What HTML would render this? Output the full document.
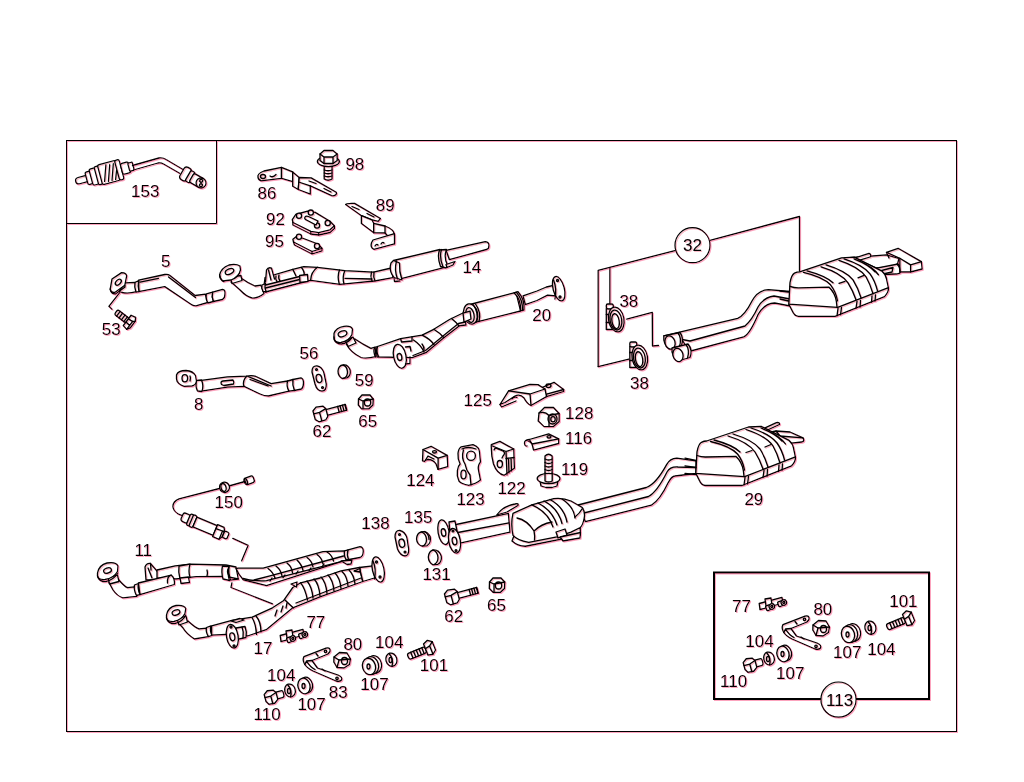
<!DOCTYPE html>
<html><head><meta charset="utf-8"><style>
html,body{margin:0;padding:0;background:#fff;width:1024px;height:782px;overflow:hidden}
svg{position:absolute;left:0;top:0}
text{font-family:"Liberation Sans",sans-serif;font-size:17px;fill:#000}
.p path,.p polyline,.p polygon,.p line,.p ellipse,.p circle,.p rect{fill:none;stroke:#000;stroke-width:1.3;stroke-linejoin:round;stroke-linecap:round}
.p .f{fill:#fff}
</style></head><body>
<svg width="1024" height="782" viewBox="0 0 1024 782">
<defs><filter id="fr" x="0" y="0" width="1024" height="782" filterUnits="userSpaceOnUse">
<feColorMatrix in="SourceGraphic" type="matrix" values="0 0 0 0 0.95  0 0 0 0 0.1  0 0 0 0 0.25  -0.333 -0.333 -0.333 0 1" result="ink"/>
<feComposite in="ink" in2="SourceAlpha" operator="in" result="inkm"/>
<feOffset in="inkm" dx="0.7" dy="0.7" result="red"/>
<feComponentTransfer in="red" result="red2"><feFuncA type="linear" slope="0.55"/></feComponentTransfer>
<feBlend in="red2" in2="SourceGraphic" mode="multiply"/>
</filter></defs>
<g filter="url(#fr)">
<g fill="none" stroke="#000" stroke-width="1">
<rect x="66.5" y="140.5" width="890" height="591"/>
<polyline points="66.5,223.5 216.5,223.5 216.5,140.5"/>
<rect x="714" y="572.5" width="215" height="126.5" stroke-width="2"/>
</g>
<g class="p">
<!-- 11 upper pipe -->
<path class="f" d="M118.1,579 Q124,586 127.5,587.7 L134.5,586.9 L136.9,596.3 L122.8,597.8 Q117,596 113,590 L108.8,582.2 Z"/>
<path class="f" d="M108,578 L117.5,575 L119,581.5 L109.5,584 Z"/>
<path class="f" d="M97.5,573 Q99,565 107,563 Q116,561.5 118,566 L117.5,571.5 Q114,578 105,579.5 Q98,580 97.5,576 Z"/>
<path d="M97.5,576 L98.5,578.5 Q101,582 106,581.5 Q114,579.5 118,573"/>
<ellipse cx="107.5" cy="570.5" rx="4" ry="2.6" transform="rotate(-20 107.5 570.5)"/>
<path class="f" d="M134.5,585 Q133.5,590 136.5,595.5 L140,594.7 Q137.5,589.5 138.4,583.5 Z"/>
<path class="f" d="M145,567 Q146.5,563 150.5,563.5 L158.75,573 L158.75,579.8 L146,580 Z"/>
<path d="M148,568 L152,578 M150.5,563.5 L151,570"/>
<path class="f" d="M157,570 L175.2,565.8 L190,564.2 L225.9,565 L236,567 L238.3,579 L225.9,576.5 L196.25,576.7 L176,579 L157,578 Z"/>
<path class="f" d="M138.4,583 L171.3,575.2 Q175,578 174.4,584.5 L140,594.7 Z"/>
<path d="M171.3,575.2 Q167,576 167.5,583"/>
<path class="f" d="M179,566 Q178,572 180,579 L190,577.5 Q188,571 190,564.2 Z"/>
<path class="f" d="M180,578 L188.5,577 L189.5,582.5 L181,583.5 Z"/>
<path d="M207,570 Q208,573 207,576"/>
<path class="f" d="M222.5,566 Q221,572 223,579 L229.5,580.5 Q227,573 229,566.5 Z"/>
<path d="M229,566.5 Q228,572 230.5,580.2 L238.3,579"/>
<path d="M228,569 Q226.5,573 229.5,576"/>
<!-- upper cat -->
<path class="f" d="M236,568.5 L238.3,568.2 L263.2,568.2 L322.9,551.6 L344.5,550.8 L346.5,560 L341.2,561.6 L266.5,585.6 L243.2,579.8 Q238,574 236,568.5 Z"/>
<path d="M243,578.5 Q254,581.5 266.5,580.7 L341.2,561.6 M254,580 L270,575.8 L343.5,556"/>
<path d="M268,568.5 Q273,572 275,578 M276,566 Q281,570 282,576 M287,563 Q292,567 292.5,573 M297,560 Q302,565 303,570.5 M307,557.5 Q312,561 313,567 M317,554.5 Q322,558 323,564 M327,552 Q332,555 333.5,561"/>
<path d="M270,581 L272,578 M283,577.5 L285,575 M296,574 L298,571 M309,570.5 L311,568 M322,567 L324,564"/>
<path class="f" d="M344.5,550.8 L360,546.6 Q363.5,547 363.3,551.5 Q363,556.5 360,557.5 L346.5,560 Q343.5,556 344.5,550.8 Z"/>
<path d="M348,550 Q346.5,555 348.5,559.5"/>
<path class="f" d="M341,561 L352,560 L351,564 L347,564.5 Z"/>
<!-- lower pipe -->
<path class="f" d="M188.1,621 Q195,627.5 199,628.9 L206.9,628.1 L208.4,636.7 L194.4,639 Q186,633.5 183,628 L178.75,623.4 Z"/>
<path class="f" d="M177,619 L186,616 L187.5,622 L179,625 Z"/>
<path class="f" d="M166.5,615 Q168,607 176,605.5 Q184,604.5 185.8,608.5 L185,613.5 Q182,619.5 174,621.5 Q167,622 166.5,618 Z"/>
<path d="M166.5,618 L167.5,620.5 Q170,624 175,623.5 Q183,621.5 185.6,615"/>
<ellipse cx="176" cy="612.5" rx="4" ry="2.5" transform="rotate(-20 176 612.5)"/>
<path class="f" d="M206.5,627.5 Q205.5,632 208.4,636.7 L212,635.5 Q209.5,630.5 211,625.8 Z"/>
<path class="f" d="M211.6,625.8 L231.9,620.3 L252.2,617.2 L272.5,607.8 L283.4,600.8 L292.8,587.5 L300.6,582.8 L320,578 L341,570.8 L359.4,567.5 L362.8,581.5 L320,596.9 L292.8,607.8 L266.25,629.7 L247.5,636 L236,634 L211.6,635.2 Z"/>
<path d="M252,617.5 Q256,624 256.5,634.5 M256,616 Q261,622 261,632"/>
<path d="M277,610 L275,616 M283,606 L281,612 M287,603 L286,608"/>
<path d="M285,600 Q290,605 293.5,608"/>
<path d="M300.6,582.8 Q305,588 307.5,600 M307,581 Q312,587 313,598 M314,579 Q319,584 320,596 M321,577 Q326,582 327,593.5 M328,575 Q333,580 334,591 M335,573 Q340,578 341,588.5 M342,571.5 Q347,576 348,586 M349,570 Q354,575 355,584"/>
<path d="M296,603 L361,578"/>
<path class="f" d="M291,584 L297,582 L296.5,587 Z"/>
<path class="f" d="M231,620.8 L240,618.5 L244,620 L236,622.5 Z"/>
<path class="f" d="M359.4,567.5 L373,565.8 L376,577.5 L362.8,581.5 Z"/>
<path class="f" d="M354,571 L360,568.5 L360,572 Z"/>
<ellipse class="f" cx="378.2" cy="569.5" rx="5.8" ry="12.8" transform="rotate(-12 378.2 569.5)"/>
<path d="M373,561 Q376.5,569 374.5,579"/>
<circle cx="376.5" cy="562" r="1"/><circle cx="380" cy="577" r="1"/>
<!-- flange 17 -->
<path class="f" d="M236,628 L245,626.5 Q247,631.5 246,637.5 L237,639.5 Z"/>
<path d="M242,627 Q244,632 243,638"/>
<ellipse class="f" cx="232.3" cy="636.3" rx="5.8" ry="12" transform="rotate(-10 232.3 636.3)"/>
<ellipse cx="232.3" cy="636.8" rx="2.5" ry="4" transform="rotate(-10 232.3 636.8)"/>
<circle cx="231" cy="627" r="1"/><circle cx="234" cy="646" r="1"/>
<!-- leaders -->

<path d="M231.9,582.8 L231,587.5 L272.5,603.9"/>
<!-- 125 bracket -->
<path class="f" d="M540.8,388 L554,382.3 L563.7,389.5 L563.7,391.5 L546.5,396.6 L540,393 Z"/>
<path d="M546.5,394.2 L563.7,389.5 M546.5,394.2 L546.5,396.6"/>
<ellipse cx="548.5" cy="385.8" rx="2.5" ry="1.8"/>
<path class="f" d="M500,404.5 L508.6,390.9 L530,384.4 L538,384.6 L545,389 L546.5,396.6 L531,405.5 Q527,404 524,398 Q520,393.5 515,396 L505,402.5 Z"/>
<path d="M508.6,390.9 L530,394 L545,389 M530,394 L531,405.5"/>
<path d="M500,404.5 L501.5,407 L516,401 M512,399 Q514,396 517,397.5"/>
<!-- 128 nut -->
<path class="f" d="M539,413 L544.5,407.5 L553.5,407.5 L559.2,413.5 L559.2,421.5 L553.5,426.6 L544,426.6 L538.2,421 Z"/>
<path d="M539,413 Q545,411 549,415.5 L549,426.6 M549,415.5 L559.2,413.5"/>
<ellipse cx="552.5" cy="419" rx="4.5" ry="5"/>
<ellipse cx="553" cy="419.2" rx="2.2" ry="2.6"/>
<!-- 116 clip -->
<path class="f" d="M529.3,439.5 L548.7,433.8 L558.7,438.8 L558.7,443.5 L533.6,450.2 L532,444 Z"/>
<path d="M532,444 L558.7,438.8 M529.3,439.5 Q524,440 524.5,443.5 Q525,446.5 527,446 M528,441 Q531,442 532,444"/>
<ellipse cx="549" cy="436.8" rx="2" ry="1.2"/>
<!-- 119 bolt -->
<path class="f" d="M545,456 Q548.5,452.5 552.2,456 L552.2,478 L545,478 Z"/>
<path d="M545,459 Q548.5,461 552.2,459 M545,462.5 Q548.5,464.5 552.2,462.5 M545,466 Q548.5,468 552.2,466 M545,469.5 Q548.5,471.5 552.2,469.5 M545,473 Q548.5,475 552.2,473"/>
<path class="f" d="M540,481 L541,486 L546,487.5 L552,487.5 L557,486 L558,481"/>
<ellipse class="f" cx="548.6" cy="478.5" rx="11.4" ry="5.2"/>
<path d="M545,474 L545,481 Q548.5,483 552.2,481 L552.2,474"/>
<!-- 124 block -->
<path class="f" d="M423,449.5 L431.1,446.3 L447.2,455.4 L447.8,466.7 L438.1,469.4 L436,464 Q433,459.5 428,459.5 Q425,460 424.5,461.5 L422.5,460.8 Z"/>
<path d="M423,449.5 L438.1,458.1 L447.2,455.4 M438.1,458.1 L438.1,469.4"/>
<ellipse cx="434.5" cy="451.8" rx="2" ry="1.2"/>
<path d="M425.5,460 L428,456 L434,459"/>
<!-- 123 bushing -->
<path class="f" d="M461.2,446.8 L473,444.7 Q479.5,447 479.5,452 L480.5,461.9 Q477.5,466 478.5,470 L480.5,480.1 Q476,484 468.7,485.3 Q461,484 459,481.2 Q456.5,476 457.4,470.5 Q458,466 460.1,464 Q457.5,459 458,453.3 Q458.5,448.5 461.2,446.8 Z"/>
<path d="M462,449 Q468,446 476,449 M463.5,450 Q461,458 465,464 Q466,470 470,475 L471,485"/>
<ellipse cx="471" cy="455.8" rx="4.4" ry="4.6"/>
<ellipse cx="463.5" cy="474.5" rx="2.6" ry="4.3"/>
<!-- 122 bushing -->
<path class="f" d="M491.3,444.7 L499.9,441.4 L513.8,449 L514.4,468.3 L504.2,475.3 Q497,474 493.5,464 Q491,455 491.3,444.7 Z"/>
<path d="M492.5,446 L506,451.5 L513.8,449 M506,451.5 L507,475"/>
<path d="M506,458.5 L514.2,457.5 M508.5,458.5 L509,473 M511,458 L511.5,471"/>
<path d="M494,450 Q495,447 498,449 L503,451 Q506,453 503,456 M503,456 L502,458"/>
<ellipse cx="499.8" cy="464" rx="2.6" ry="3.5"/>
<!-- 14 pipe -->
<path class="f" d="M241.4,278.2 Q248,283 255,286 L261,285.2 L264,293.5 Q258,298.5 252,298 Q246,296.5 240,290 L231,282 Z"/>
<path class="f" d="M230,277 L241,275.5 L242,280.5 L232,283.5 Z"/>
<path class="f" d="M219.6,275 Q221,268 229,265 Q236,263.5 240,266 L240.5,270 Q239,277 231,280 L223,281 Q219.5,279 219.6,275 Z"/>
<path d="M219.6,275 L220.5,278 Q222,281.5 224,281.5"/>
<ellipse cx="229.5" cy="271.5" rx="4.5" ry="2.6" transform="rotate(-25 229.5 271.5)"/>
<!-- straight section with shield -->
<path class="f" d="M264,286 L265,277.5 L292.8,269.4 L303.8,266.6 L317.4,267.3 L344.8,270.7 L373.5,272.1 L391.3,268 L393,277.6 L374.8,281 L340,284.4 L310.6,280.3 L307.9,281 L265.5,292 Z"/>
<path d="M265.5,285 L299.5,276.5 M265.5,288 L299.5,279.5"/>
<path d="M292.8,269.4 L296,276 M301.5,267.5 Q305,272 304,276"/>
<path class="f" d="M299.6,275.5 L307.5,274.5 L308,281.5 L300,282.5 Z"/>
<path d="M317.4,267.3 Q311,272 310.6,280.3"/>
<path d="M339.5,270 Q337,276 339.3,284.4 M344.8,270.7 Q342,277 344,284"/>
<path d="M345,278.3 L372,279"/>
<path d="M371.5,272 Q370,276.5 372,281 M374,272 Q373,277 375,281"/>
<path class="f" d="M263,291.5 Q261,288 262,285 L265.5,283.5 Q264,287.5 266.5,292 Z"/>
<!-- bracket tab -->
<path class="f" d="M265.5,282 L266.5,270 Q268,267 271.5,268 L274.5,279"/>
<path d="M268.5,270 L271,280 M276,276 Q275,279 277,281.5 M279,275 Q278,278.5 280,281"/>
<!-- muffler -->
<path class="f" d="M393.5,260.5 L440,249.5 L447.8,266.7 L399.4,279.2 Z"/>
<path class="f" d="M446,250.3 L485.3,241.7 Q489,242 489,245.5 Q489,249 486.5,249.5 L449.4,259.7 Z"/>
<path class="f" d="M391,263 Q389,269 392,274.5 Q394.5,279 396,278 L402,280 Q399,271.5 399.5,263 L393.5,260.5 Z"/>
<path d="M394,278 L394.5,281.5 L400,281 M396.5,261 Q394,270 397.5,279"/>
<path class="f" d="M439.5,250 Q437,257 440.5,266.5 L446,268 Q448,267 447.5,265 Q443.5,257 446.5,249.5 Z"/>
<path d="M441.5,249.5 Q439,257 443,267"/>
<path class="f" d="M446,264.5 L455,261.5 L453,265 L447,267.5 Z"/>
<!-- 150 sensor -->
<path d="M245,481.5 L229,486 M219.5,488.5 L179.1,498.8 Q172.5,501.5 173,507 Q174,513 181.6,515.4"/>
<g transform="translate(249.5,480.2) rotate(-20)">
<rect class="f" x="-4.5" y="-3.5" width="9" height="7" rx="2"/>
<ellipse cx="-4" cy="0" rx="1.5" ry="3.3"/>
</g>
<g transform="translate(224.5,487.3) rotate(-15)">
<ellipse class="f" cx="0" cy="0" rx="5" ry="5.2"/>
<ellipse cx="-1" cy="0" rx="2.5" ry="4"/>
</g>
<g transform="translate(182,516.5) rotate(23)">
<rect class="f" x="0" y="-4.5" width="8" height="9" rx="2.5"/>
<rect class="f" x="7" y="-6" width="4" height="12" rx="1.5"/>
<rect class="f" x="10" y="-6.3" width="4" height="12.6" rx="1.5"/>
<rect class="f" x="14" y="-5.3" width="22" height="10.6"/>
<path class="f" d="M36,-6.5 L43,-6.5 L45,-3 L45,3 L43,6.5 L36,6.5 Z"/>
<path d="M36,-2 L43,-2.5 L45,-3 M43,-2.5 L43,6.5"/>
<rect class="f" x="45" y="-3.5" width="5" height="7" rx="1.5"/>
</g>
<path d="M232.8,538.4 L248.1,545.4 L241.7,560.8"/>
<!-- 153 sensor -->
<g transform="translate(77.5,181) rotate(-15) scale(0.93)">
<rect class="f" x="-2" y="-3.5" width="16" height="7" rx="3.5"/>
<rect class="f" x="10" y="-7" width="6" height="14" rx="2"/>
<rect class="f" x="15" y="-9" width="7" height="18" rx="2"/>
<rect class="f" x="21" y="-10" width="5" height="20" rx="1.5"/>
<rect class="f" x="25" y="-11" width="20" height="22" rx="2"/>
<path d="M28,8 L34,-9 M32,9 L38,-8 M36,9 L42,-8 M40,9 L45,-4"/>
<rect class="f" x="44" y="-11" width="5" height="22" rx="2"/>
<rect class="f" x="49" y="-6" width="9" height="12" rx="2"/>
<rect class="f" x="57" y="-4.5" width="5" height="9" rx="1"/>
</g>
<path d="M132.5,165.5 L159,158 Q163,157.5 166,159.5 L183,169.5 M133.5,170 L158,163 Q161,162.5 163.5,164 L180,173.5"/>
<g transform="translate(182,172) rotate(30)">
<rect class="f" x="0" y="-7" width="8" height="14" rx="3"/>
<rect class="f" x="7" y="-6" width="5" height="12" rx="1.5"/>
<rect class="f" x="11" y="-5" width="12" height="10" rx="2"/>
<circle cx="22" cy="0" r="5" class="f"/>
<circle cx="21" cy="-2" r="1.5"/><circle cx="23" cy="2" r="1.5"/>
</g>
<!-- 20 pipe -->
<path class="f" d="M354.6,338.8 Q363,344.5 371,348.4 L375.1,347 L376,356.6 Q366,359 361,357.5 Q351,353 346.4,344.3 Z"/>
<path class="f" d="M345.5,341 L353,337 L356,343 L348,346.5 Z"/>
<path class="f" d="M334,333.5 Q336,327.5 344,326.3 Q351,325.5 352.5,329 L352,334.5 Q349,341 341,342.5 Q335,343 334,339 Z"/>
<path d="M334,337 L334.5,340 Q336,344 341.5,344 Q348,343 352,337.5"/>
<ellipse cx="342.5" cy="333.8" rx="4.5" ry="2.8" transform="rotate(-20 342.5 333.8)"/>
<path class="f" d="M376,347 L400.6,338.6 L422.1,335.2 L433.8,329.3 L449.5,319.5 L464,312.5 L466,325 L459.2,325.9 L443.6,338.1 L426,352.7 L412.3,357.6 L377,357 Z"/>
<path d="M374.5,347.5 Q373,352 375.5,357 M377.5,346.5 Q376,351.5 378.5,356.5"/>
<path d="M413,355.5 L425.5,350.5 L443,336 L458.5,323.5 L465,322"/>
<path d="M400.6,338.6 L401.5,342 L412,341 L412,336.8"/>
<path d="M413.5,340 Q421,345 424,352 M422.1,335.2 Q430,339 434,344.5 M433.8,329.3 Q440,333 443.6,337.5 M451.5,318.5 Q456,322 459,326"/>
<path d="M422,344 Q424.5,347 424,350"/>
<ellipse class="f" cx="399.8" cy="356.3" rx="6.2" ry="12.2" transform="rotate(-12 399.8 356.3)"/>
<ellipse cx="399.5" cy="357" rx="2.3" ry="3.5" transform="rotate(-12 399.5 357)"/>
<path d="M405.5,347 L410,346.5 L411,351 M405.5,364 L410,363.5 L410,357"/>
<!-- muffler 20 -->
<path class="f" d="M468,305 L516,292.3 L520.6,311 L476,322.2 Z"/>
<ellipse class="f" cx="470.6" cy="314" rx="7" ry="10.3" transform="rotate(-12 470.6 314)"/><ellipse cx="470" cy="315" rx="4" ry="7.5" transform="rotate(-12 470 315)"/><path class="f" d="M463,313 L470,311 L471,319 L464,322 Z"/>
<path d="M473,304.5 Q479,313 476.5,322 M475.5,304 Q481.5,312.5 479,321.5"/>
<path class="f" d="M514,292.8 Q521,299 520.6,310.8 L524,310 Q525,299 518,291.7 Z"/>
<path d="M516.5,292.3 Q523,300 522.5,310.5"/>
<path class="f" d="M523,295.8 L537,291 L546.4,287 L554.6,285.2 L556,296 L547.6,295.2 L537,300.5 L525.3,304.6 Z"/>
<ellipse class="f" cx="558.7" cy="288.7" rx="5.6" ry="12.6" transform="rotate(-15 558.7 288.7)"/>
<path d="M553.5,280 Q557,288 555,299"/>
<circle cx="557.5" cy="280.5" r="1"/><circle cx="560" cy="297" r="1"/>
<!-- 138 gasket -->
<path class="f" d="M395,537 Q395,530 400,530.5 Q405,531.5 407,538 L408.7,549 Q409,556 405,556 Q400,555.5 397.5,549 Z"/>
<ellipse cx="401.8" cy="543.2" rx="2.8" ry="4.2" transform="rotate(-12 401.8 543.2)"/>
<circle cx="399.5" cy="534.5" r="0.9"/><circle cx="405" cy="552" r="0.9"/>
<!-- 135 ring -->
<path class="f" d="M421,532 Q427,530.5 430.2,536.5 Q431.5,543 427,545.8 L422,546.2 Q417,544.5 416.5,539 Q417,533 421,532 Z"/>
<path d="M421.5,532 Q426,533.5 426.5,539.5 Q426.5,544.5 422.5,546.2 M424.5,531.5 Q429,534 429,539.5"/>
<!-- 131 ring -->
<path class="f" d="M433,550 Q439,549.5 441.3,556 Q442,562 438,564.3 L433,564.8 Q428.5,562.5 428.3,557 Q429,551 433,550 Z"/>
<path d="M433,550 Q437.5,551.5 438,557.5 Q438,562.5 434,564.6"/>
<!-- 62 lower bolt -->
<g transform="translate(452.5,597) rotate(-15)">
<path class="f" d="M4,-3 L26,-3 L26,3 L4,3 Z"/>
<path d="M18,-3 L18,3 M20.5,-3 L20.5,3 M23,-3 L23,3 M25.5,-3 L25.5,3"/>
<path class="f" d="M-7,-5 L-3,-8 L4,-7 L6,-4 L6,4 L3,7 L-4,7 L-7,4 Z"/>
<path d="M-7,-2 L-1,-2 L6,-4 M-1,-2 L-1,7"/>
</g>
<!-- 65 lower nut -->
<path class="f" d="M489.5,582 L493,578 L501,578 L504.8,582 L504.5,588.5 L500.5,592.3 L493,592.3 L489.3,588.5 Z"/>
<path d="M489.5,582 L494,584 L504.8,582 M494,584 L494,592.3"/>
<ellipse cx="498.5" cy="585.5" rx="3.2" ry="3.5"/>
<!-- cat 29 pipe to rear -->
<path class="f" d="M578,505 L646.3,487.5 Q656,484 666.6,464.6 Q670,458.5 676.8,458.2 L696,460.8 L696,473.5 L675,476 Q671.7,476 668,483 Q660,500 651.4,505.2 L585.4,521.7 Z"/>
<path d="M582,513.5 L648.5,496.5 Q657,492 667,472 Q670,466.5 678,467 L696,467.5"/>
<!-- twin pipes from flanges -->
<path class="f" d="M449,526 L508.4,513.4 L510,532.2 L460,543.1 Z"/>
<path d="M455,533 L509,522.8"/>
<path class="f" d="M496.7,515 Q503,506 515,504 Q519,503 518,505.5 L507,512 Z"/>
<ellipse class="f" cx="443.6" cy="532.2" rx="5.5" ry="12.5" transform="rotate(-10 443.6 532.2)"/>
<ellipse cx="443.5" cy="532.5" rx="2.2" ry="3.8" transform="rotate(-10 443.5 532.5)"/>
<path class="f" d="M449,522 L455,521 L457,531 L450,533 Z"/>
<ellipse class="f" cx="454.5" cy="540.8" rx="5.8" ry="12.5" transform="rotate(-10 454.5 540.8)"/>
<ellipse cx="454.5" cy="541" rx="2.3" ry="3.8" transform="rotate(-10 454.5 541)"/>
<circle cx="453" cy="531" r="0.9"/><circle cx="456" cy="550.5" r="0.9"/>
<!-- cat body -->
<path class="f" d="M512,541 Q518,546.5 525.6,546.25 L580.3,535.3 L580.3,528 L515,533 Z"/>
<path class="f" d="M513,513.4 L531.9,504.8 L553.75,498.6 Q563,497.5 571,501 L581.9,507.2 Q585.5,512 584.2,518 Q583,525 580.3,527.5 L571,532.2 L556.9,536.9 L528.75,542.3 Q517,540 513,535.3 Q510.5,524 513,513.4 Z"/>
<path d="M517,518 Q527,520 534,531 Q541,524 552,522 M534,531 Q535,536 534.5,540"/>
<path d="M531.9,504.8 Q548,512 553,527 M538,503 Q552,510 557,525 M544,501 Q558,508 562,523.5 M550,499.5 Q564,507 567,522 M562,499 Q574,507 575,518"/>
<path d="M575,517 Q580,513 582,509"/>
<path class="f" d="M556,532 L565,529 L567,535 L558,538 Z"/>
<path class="f" d="M560,537 L580.5,532.5 L580,538 L563,541 Z"/>
<!-- muffler 29 tail -->
<path class="f" d="M756,432 L776.4,422.6 Q780,422 779.5,424.5 L762,432.5 Z"/>
<path class="f" d="M760,434 L776,431 L790,432 L803,437.9 Q805,441 802,442 L782.8,444.2 L770,445 Z"/>
<path d="M776,431 L780,436 L803,437.9 M780,436 L778,444.5"/>
<!-- muffler 29 body -->
<g>
<path class="f" d="M695.8,473.4 L699,479.7 Q701.5,485.5 705.3,485.5 L742.1,485.5 L791.6,465.8 Q796,461 795.4,456.9 Z"/>
<path class="f" d="M706.6,441 L748.5,427 L761.2,426.4 L789.1,440.4 Q793,444 793.5,448 L795.4,456.9 L744.7,476.6 L695.8,473.4 L697,451.8 Q698.5,444 701.5,442.3 Q704,441 706.6,441 Z"/>
<path d="M697,455.5 Q701,457 705.3,457 L735.8,456.3 Q742,462 743.4,470.9 L744,476.5"/>
<path d="M710.5,441.5 Q730,446 737.5,454 Q743,461 744.5,470"/>
<path d="M714,440 Q733,445 740,452 M728,436 Q748,442 755,452 Q760,460 763,469 M733,434 Q753,440 760,449 Q765,457 768,467"/>
<path d="M746,429.5 Q766,436 773,446 Q777,453 780,463 M751,428 Q770,434 777,443 Q782,450 784.5,460"/>
<path d="M761,428 Q776,434 782,441 M766,430 Q780,436 785.5,444"/>
<path d="M746,452.5 L752,450.5 M765,447 L771,444.5"/>
<path d="M745,477.5 L744,485 M748.5,476.5 L747.5,484 M764,470.5 L763,477.5 M767.5,469.5 L767,476.5 M779,465 L778.5,471.5 M782.5,464 L782,470.5"/>
</g>
<path d="M685,458.2 L696,460.5 M685,465.8 L696,467.5 M685,473.5 L696,474.5"/>
<!-- 32 group leader lines -->
<path d="M598.2,366.6 L598.2,270.3 L675,250.6 M710,240.4 L799.5,216.5 L799.5,272.5"/>
<path d="M598.2,366.6 L629,359.2 M609.9,268.2 L609.9,304"/>
<path d="M626.8,319.1 L652.3,312.4 L652.5,346 L658.5,345.5"/>
<!-- clamps 38 -->
<g transform="translate(616.3,319.5)">
<path class="f" d="M-10,-11 L-3,-11 L-3,10 L-10,10 Z"/>
<path d="M-10,-5 L-4,-5 M-10,3 L-4,3"/>
<rect class="f" x="-10" y="-15.5" width="7" height="4.8" rx="1.5"/>
<ellipse class="f" cx="0" cy="0" rx="7.7" ry="12.5" transform="rotate(-10)"/>
<ellipse cx="-0.5" cy="0.5" rx="5.8" ry="10" transform="rotate(-10)"/>
<ellipse cx="-1" cy="1.5" rx="3.6" ry="7.5" transform="rotate(-10)"/>
</g>
<g transform="translate(639.8,357.5)">
<path class="f" d="M-10,-11 L-3,-11 L-3,10 L-10,10 Z"/>
<path d="M-10,-5 L-4,-5 M-10,3 L-4,3"/>
<rect class="f" x="-10" y="-15.5" width="7" height="4.8" rx="1.5"/>
<ellipse class="f" cx="0" cy="0" rx="7.7" ry="12.5" transform="rotate(-10)"/>
<ellipse cx="-0.5" cy="0.5" rx="5.8" ry="10" transform="rotate(-10)"/>
<ellipse cx="-1" cy="1.5" rx="3.6" ry="7.5" transform="rotate(-10)"/>
</g>
<!-- twin pipes -->
<path class="f" d="M689,351.5 L743.8,336.9 Q750,334 758.2,314.3 Q765,303 774.6,303 L790,306 L790,296 L778,292 Q767,291 760,296 Q752,303 747,317 Q742,322 737.7,322.5 L681,338 Z"/>
<path class="f" d="M663.8,335.9 L737.7,318.4 Q745,315 752,301 Q758,290 768.4,289.7 L790,291.5 L790,299 L774,296 Q764,297 758,307 Q752,320 745,326 L690,341 Z"/>
<path class="f" d="M663.8,335.9 L680,332.5 Q684,338 681.5,346 L669,349 Q663,344 663.8,335.9 Z"/>
<ellipse class="f" cx="670" cy="342.5" rx="5" ry="6.8" transform="rotate(-15 670 342.5)"/>
<path d="M678,333 Q682,338 679.5,346.5"/>
<path class="f" d="M672,348 L688,344 Q693,350 690,357.5 L678,361 Q671,355 672,348 Z"/>
<ellipse class="f" cx="678" cy="355" rx="5" ry="6.8" transform="rotate(-15 678 355)"/>
<path d="M686,344.5 Q690,350 687.5,358"/>
<!-- muffler 32 (body via use) -->
<path class="f" d="M846,258 L886.5,254.9 L899,258.5 L897,266 L876.5,268.2 L864,262.5 Z"/>
<path class="f" d="M876.5,268.2 L898.1,264 Q902,268 900,273 L896.5,274 L874,274.9 L872,270 Z"/>
<path class="f" d="M886.5,252.4 L898.1,248.3 L921.4,261.6 L922.2,269 L910.6,272 L899.8,272 L899.8,258.3 Z"/>
<path d="M899.8,258.3 L910.6,264.9 L921.4,261.6 M910.6,264.9 L910.6,272 M886.5,252.4 L889,258 M897,264 Q901,268 899.8,272"/>
<path class="f" d="M853.3,258.5 L869,253.3 Q872,254.5 870,257 L858,260.7 Z"/>
<path class="f" d="M874,272.5 L893,267.5 L892,272 L876,275.5 Z"/>
<g transform="translate(93,-169.2)">
<path class="f" d="M695.8,473.4 L699,479.7 Q701.5,485.5 705.3,485.5 L742.1,485.5 L791.6,465.8 Q796,461 795.4,456.9 Z"/>
<path class="f" d="M706.6,441 L748.5,427 L761.2,426.4 L789.1,440.4 Q793,444 793.5,448 L795.4,456.9 L744.7,476.6 L695.8,473.4 L697,451.8 Q698.5,444 701.5,442.3 Q704,441 706.6,441 Z"/>
<path d="M697,455.5 Q701,457 705.3,457 L735.8,456.3 Q742,462 743.4,470.9 L744,476.5"/>
<path d="M710.5,441.5 Q730,446 737.5,454 Q743,461 744.5,470"/>
<path d="M714,440 Q733,445 740,452 M728,436 Q748,442 755,452 Q760,460 763,469 M733,434 Q753,440 760,449 Q765,457 768,467"/>
<path d="M746,429.5 Q766,436 773,446 Q777,453 780,463 M751,428 Q770,434 777,443 Q782,450 784.5,460"/>
<path d="M761,428 Q776,434 782,441 M766,430 Q780,436 785.5,444"/>
<path d="M746,452.5 L752,450.5 M765,447 L771,444.5"/>
<path d="M745,477.5 L744,485 M748.5,476.5 L747.5,484 M764,470.5 L763,477.5 M767.5,469.5 L767,476.5 M779,465 L778.5,471.5 M782.5,464 L782,470.5"/>
</g>
<path d="M788.5,292 L780,291 M788.5,301 L780,299"/>
<!-- 5 pipe -->
<path class="f" d="M124.8,282.8 L135.5,282.3 L136.8,291.7 Q128,294 122,292.5 L119,291.5 Z"/>
<path class="f" d="M138.7,280.2 L164.7,274.5 Q168,274 170,275.5 L195.2,295.5 L205.4,294.2 L207.9,302.5 L196,305.8 Q193,306 190.5,304 L164.7,286.6 L138.7,291.7 Z"/>
<path d="M140,282.2 L158.5,278.3"/>
<path d="M168.5,277 L195.5,297.5"/>
<path class="f" d="M135,282.5 Q134,287 136,292.2 L139,291.6 Q137.5,286.5 138.7,280.5 Z"/>
<path class="f" d="M206.4,293.8 Q205.2,298.5 208,303 L213.5,301.5 Q211.5,296.5 212.7,292.2 Z"/>
<path class="f" d="M212.7,292.2 L222.5,289.3 Q225.5,289.5 225,294 Q225,298 222.5,299.5 L213.5,301.5 Q211.5,296.5 212.7,292.2 Z"/>
<path class="f" d="M110.2,289.1 L112,279 L121.6,272.6 Q126,272.5 126.7,275.8 L124.8,285.3 L115.2,292.3 Q110.5,293 110.2,289.1 Z"/>
<path d="M110.2,289.1 L111,291.5 Q112,294 115.5,294 L125,287 L124.8,285.3"/>
<ellipse cx="118.3" cy="282.2" rx="3.6" ry="2.2" transform="rotate(-45 118.3 282.2)"/>
<path d="M119.7,292.6 L108.9,306.3 L112,309.2"/>
<!-- 53 bolt -->
<g transform="translate(116,312) rotate(37)">
<rect class="f" x="0" y="-3" width="15" height="6" rx="2"/>
<path d="M3,-3 L3,3 M6,-3 L6,3 M9,-3 L9,3 M12,-3 L12,3"/>
<path class="f" d="M14,-6.5 L19,-7.5 L21,-4 L21,4 L19,7.5 L14,6.5 Z"/>
<path d="M14,-2 L19,-2.5 L21,-4 M19,-2.5 L19,7.5 M14,2 L19,2.5"/>
</g>
<!-- 8 pipe -->
<path class="f" d="M201.4,380.3 L227.4,376.9 L246.6,376.2 Q252,375 256,376.5 L271.2,383.7 L287.6,381 L289,391.2 L268.4,396 Q264,396 260,394 L244,386.4 L227.4,387.1 L201.4,391.2 Z"/>
<path d="M246.6,376.2 Q242,381 244,386.4"/>
<path d="M248,376.5 L271.2,386 M250,379.5 L268,386"/>
<path class="f" d="M221.5,384.5 Q220,381.5 223,381 L233,380 Q234.5,382.5 233.5,384 L224,385.5 Z"/>
<path class="f" d="M196.5,380.5 L201.5,380 Q204,386 201.8,391.5 L197.5,391 Q195,386 196.5,380.5 Z"/>
<path class="f" d="M287.6,381 L293,379.5 L294.5,390.5 L289,391.2 Q286,386 287.6,381 Z"/>
<path class="f" d="M293,379.5 L301,377.9 Q303.5,378.5 303.5,383 Q303.5,387.5 301.5,389 L294.5,390.5 Q292,385 293,379.5 Z"/>
<path class="f" d="M176.5,375 Q178,370.5 186,370.5 Q193,371 195.5,375.5 L196.5,381 Q196,385 192,386 L184,386.3 Q177,384 176.5,379 Z"/>
<ellipse cx="184.8" cy="378.2" rx="2.8" ry="3.6"/>
<path d="M190,381 Q191,378 190,376"/>
<!-- 56 gasket -->
<path class="f" d="M312,372 Q312,365.5 317,365.8 Q322,366.5 324,373 L326.3,384 Q326.5,391 322,391.2 Q317,391 315,384 Z"/>
<ellipse cx="319" cy="378.5" rx="2.8" ry="4.2" transform="rotate(-12 319 378.5)"/>
<circle cx="316.5" cy="369.5" r="0.9"/><circle cx="322.5" cy="387.5" r="0.9"/>
<!-- 59 ring -->
<path class="f" d="M343,365 Q348,364 350.2,370 Q351,376 347,377.8 L342,378.5 Q338,376 338,371 Q338.5,365.5 343,365 Z"/>
<path d="M343,365 Q347,366 347.5,372 Q347.5,377 343.5,378.3"/>
<!-- 62 bolt -->
<g transform="translate(321,414) rotate(-15)">
<path class="f" d="M4,-3 L26,-3 L26,3 L4,3 Z"/>
<path d="M18,-3 L18,3 M20.5,-3 L20.5,3 M23,-3 L23,3 M25.5,-3 L25.5,3"/>
<path class="f" d="M-7,-5 L-3,-8 L4,-7 L6,-4 L6,4 L3,7 L-4,7 L-7,4 Z"/>
<path d="M-7,-2 L-1,-2 L6,-4 M-1,-2 L-1,7"/>
</g>
<!-- 65 nut -->
<path class="f" d="M358.5,399 L362,395 L370,395 L373.3,399 L373,405 L369,408.8 L361.5,408.8 L358.3,405 Z"/>
<path d="M358.5,399 L363,401 L373.3,399 M363,401 L363,408.8"/>
<ellipse cx="367.5" cy="402.5" rx="3.2" ry="3.5"/>
<!-- 86 bracket -->
<path class="f" d="M281.5,167.3 L264,171 Q257,173.5 258,177.5 Q259,181.5 263,180.7 L281.5,178.4 Z"/>
<ellipse cx="263" cy="176.5" rx="2.5" ry="2"/>
<path d="M270,176 Q273,178 276,174.5"/>
<path class="f" d="M281.5,167.3 L292.7,171.9 L292.7,181.6 L281.5,178.4 Z"/>
<path class="f" d="M292.7,171.9 L299.2,177.5 L298.2,189.5 L292.7,186.3 Z"/>
<path class="f" d="M299.2,177.5 L311.2,177.9 L336.3,192.3 Q337.5,195 333,195.8 L331.6,195.6 L310.3,185.8 L310.3,194.2 L298.2,189.5 Z"/>
<path d="M310.3,185.8 L298.6,182"/>
<path d="M309,181 L316,183.5 M324,188.5 L331,192"/>
<!-- 98 bolt -->
<path class="f" d="M324.2,166 L324.2,179 Q328,181.5 332.1,179 L332.1,166"/>
<path d="M324.2,170 Q328,171.5 332.1,170 M324.2,173 Q328,174.5 332.1,173 M324.2,176 Q328,177.5 332.1,176"/>
<ellipse class="f" cx="328.4" cy="161.4" rx="11" ry="5.2"/>
<path class="f" d="M320,160.5 L320,154 L324,150.5 L333,150.5 L337.2,154 L337.2,160.5 L333,163.5 L324,163.5 Z"/>
<path d="M320,154 L324,157 L333,157 L337.2,154 M324,157 L324,163.5 M333,157 L333,163.5"/>
<!-- 92 plate -->
<path class="f" d="M292.3,219.7 L295.7,214.5 L307.5,211.2 L315.3,212.4 L330,221.3 L334.4,225.8 L330,229.8 L318.7,232.6 L310.8,231.4 L292.9,222.5 Z"/>
<path d="M292.9,222.5 L292.9,225 L310.8,234 L318.7,235 L330,232.5 L334.4,228.5 L334.4,225.8"/>
<path d="M310.8,231.4 L310.8,234 M318.7,232.6 L318.7,235"/>
<circle class="f" cx="299" cy="215.7" r="2.6"/>
<circle class="f" cx="310.8" cy="212.6" r="2.6"/>
<circle class="f" cx="327.7" cy="223" r="2.6"/>
<circle class="f" cx="317" cy="225.5" r="2.6"/>
<path class="f" d="M305,217 Q304,219 306.5,220 L316,225 L318,221 L308.5,216.5 Q306,215.5 305,217 Z"/>
<!-- 95 plate -->
<path class="f" d="M292.9,239.3 L297,236 L318,244 L322,248.3 L312,251.5 L293.5,242 Z"/>
<path d="M293.5,242 L294.5,245 L312,254 L322,250.8 L322,248.3 M312,251.5 L312,254"/>
<circle class="f" cx="299" cy="236.8" r="2.6"/>
<circle class="f" cx="317" cy="246" r="2.6"/>
<!-- 89 bracket -->
<path class="f" d="M345.6,204.5 Q346,203 354.6,203.4 L380.5,218.5 L378.2,221.3 L372,219.8 L361.4,215.7 Z"/>
<path d="M352,206.5 L359,209.5 M367,213.5 L374,217"/>
<path class="f" d="M361.4,215.7 L372,219.8 L373.7,223.3 L373.7,232.8 L361.4,223.5 Z"/>
<path class="f" d="M373.7,223.3 L385,226 Q394.5,229.5 394.5,235 L394.5,243.8 L385,233 L373.7,232.8 Z"/>
<path d="M385,226 L385,233"/>
<path class="f" d="M373,240 L394.5,233.7 L394.5,243.8 L374,249.4 Q370,247.5 371.5,242.7 Z"/>
<path d="M375,246 Q376.5,243.5 378,245 M381,244 Q382.5,241.5 384,243"/>
<!-- mounts -->
<g transform="translate(280.00,640.00) scale(1.0) translate(-280,-640)">
<path class="f" d="M280.2,635.5 L303,629.4 L304,635 L281,641.7 Z"/>
<path class="f" d="M286,631 L292,630 L293,637 L287,638 Z"/>
<g transform="translate(290,639.5) rotate(-20)"><rect class="f" x="-3" y="-2.5" width="5" height="5" rx="1"/><circle class="f" cx="3" cy="0" r="2.8"/><circle cx="3" cy="0" r="1"/></g>
<g transform="translate(302,635.5) rotate(-20)"><rect class="f" x="-3" y="-2.5" width="5" height="5" rx="1"/><circle class="f" cx="3" cy="0" r="2.8"/><circle cx="3" cy="0" r="1"/></g>
<path class="f" d="M304,656.6 L326,648.2 Q331,647 330,651.5 L328,654 L312,660.5 L317.5,668 L338,675 Q343,677 341.5,680 Q340,682 336,681 L313,671 Q307,668 304.8,664.5 Q302,660 304,656.6 Z"/>
<path d="M304.8,664.5 L306.5,661 L312,660.5 M306.5,661 Q310,667 315,669.5"/>
<circle cx="325.5" cy="651.3" r="1.2"/><circle cx="337" cy="678.3" r="1.2"/><path d="M316,653.5 L318,656 M322,669 L325,671"/>
<path class="f" d="M334,657 L339.5,652.5 L347,653 L350.5,659 L349.5,664.5 L344,668 L337,667.5 L333.8,662 Z"/>
<path d="M334,657 L339,660 L350.5,659 M339,660 L337,667.5"/><ellipse cx="344.5" cy="661" rx="3" ry="3.5"/>
<ellipse class="f" cx="391.4" cy="659.7" rx="5.5" ry="6.7" transform="rotate(-15 391.4 659.7)"/><path d="M389,653.5 Q394,659 392,666"/><ellipse cx="390.5" cy="660" rx="1.5" ry="2.6"/>
<ellipse class="f" cx="374.5" cy="664.5" rx="7" ry="9" transform="rotate(-15 374.5 664.5)"/><ellipse class="f" cx="371.5" cy="665.5" rx="7" ry="9" transform="rotate(-15 371.5 665.5)"/><ellipse class="f" cx="369" cy="666.5" rx="6.5" ry="8.3" transform="rotate(-15 369 666.5)"/><ellipse cx="368.5" cy="666.5" rx="1.5" ry="2.5"/>
<g transform="translate(410,656.0) rotate(-22)"><rect class="f" x="-2" y="-3.2" width="19" height="6.4" rx="2"/><path d="M2,-3.2 L2,3.2 M5,-3.2 L5,3.2 M8,-3.2 L8,3.2 M11,-3.2 L11,3.2 M14,-3.2 L14,3.2"/><path class="f" d="M17,-6 L22,-8 L26,-5 L26,4 L22,7 L17,6 Z"/><path d="M17,-1 L22,-2 L26,-5 M22,-2 L22,7"/></g>
<ellipse class="f" cx="290" cy="690.5" rx="5.3" ry="6.5" transform="rotate(-15 290 690.5)"/><path d="M287.5,684.5 Q292.5,690 290.5,697"/><ellipse cx="289" cy="691" rx="1.5" ry="2.6"/>
<ellipse class="f" cx="306.5" cy="685" rx="6" ry="8" transform="rotate(-15 306.5 685)"/><ellipse class="f" cx="304" cy="686" rx="6" ry="8" transform="rotate(-15 304 686)"/><ellipse cx="303.5" cy="686" rx="1.5" ry="2.5"/>
<g transform="translate(271,697) rotate(-15)"><rect class="f" x="3" y="-3.5" width="10" height="7" rx="2"/><path class="f" d="M-6,-4 L-2,-7 L4,-6 L6,-3 L6,4 L2,7 L-4,6.5 L-6,3 Z"/><path d="M-6,-1 L0,-1 L6,-3 M0,-1 L0,7"/></g>
</g>
<g transform="translate(759.00,608.00) scale(1.0) translate(-280,-640)">
<path class="f" d="M280.2,635.5 L303,629.4 L304,635 L281,641.7 Z"/>
<path class="f" d="M286,631 L292,630 L293,637 L287,638 Z"/>
<g transform="translate(290,639.5) rotate(-20)"><rect class="f" x="-3" y="-2.5" width="5" height="5" rx="1"/><circle class="f" cx="3" cy="0" r="2.8"/><circle cx="3" cy="0" r="1"/></g>
<g transform="translate(302,635.5) rotate(-20)"><rect class="f" x="-3" y="-2.5" width="5" height="5" rx="1"/><circle class="f" cx="3" cy="0" r="2.8"/><circle cx="3" cy="0" r="1"/></g>
<path class="f" d="M304,656.6 L326,648.2 Q331,647 330,651.5 L328,654 L312,660.5 L317.5,668 L338,675 Q343,677 341.5,680 Q340,682 336,681 L313,671 Q307,668 304.8,664.5 Q302,660 304,656.6 Z"/>
<path d="M304.8,664.5 L306.5,661 L312,660.5 M306.5,661 Q310,667 315,669.5"/>
<circle cx="325.5" cy="651.3" r="1.2"/><circle cx="337" cy="678.3" r="1.2"/><path d="M316,653.5 L318,656 M322,669 L325,671"/>
<path class="f" d="M334,657 L339.5,652.5 L347,653 L350.5,659 L349.5,664.5 L344,668 L337,667.5 L333.8,662 Z"/>
<path d="M334,657 L339,660 L350.5,659 M339,660 L337,667.5"/><ellipse cx="344.5" cy="661" rx="3" ry="3.5"/>
<ellipse class="f" cx="391.4" cy="659.7" rx="5.5" ry="6.7" transform="rotate(-15 391.4 659.7)"/><path d="M389,653.5 Q394,659 392,666"/><ellipse cx="390.5" cy="660" rx="1.5" ry="2.6"/>
<ellipse class="f" cx="374.5" cy="664.5" rx="7" ry="9" transform="rotate(-15 374.5 664.5)"/><ellipse class="f" cx="371.5" cy="665.5" rx="7" ry="9" transform="rotate(-15 371.5 665.5)"/><ellipse class="f" cx="369" cy="666.5" rx="6.5" ry="8.3" transform="rotate(-15 369 666.5)"/><ellipse cx="368.5" cy="666.5" rx="1.5" ry="2.5"/>
<g transform="translate(410,658.5) rotate(-22)"><rect class="f" x="-2" y="-3.2" width="19" height="6.4" rx="2"/><path d="M2,-3.2 L2,3.2 M5,-3.2 L5,3.2 M8,-3.2 L8,3.2 M11,-3.2 L11,3.2 M14,-3.2 L14,3.2"/><path class="f" d="M17,-6 L22,-8 L26,-5 L26,4 L22,7 L17,6 Z"/><path d="M17,-1 L22,-2 L26,-5 M22,-2 L22,7"/></g>
<ellipse class="f" cx="290" cy="690.5" rx="5.3" ry="6.5" transform="rotate(-15 290 690.5)"/><path d="M287.5,684.5 Q292.5,690 290.5,697"/><ellipse cx="289" cy="691" rx="1.5" ry="2.6"/>
<ellipse class="f" cx="306.5" cy="685" rx="6" ry="8" transform="rotate(-15 306.5 685)"/><ellipse class="f" cx="304" cy="686" rx="6" ry="8" transform="rotate(-15 304 686)"/><ellipse cx="303.5" cy="686" rx="1.5" ry="2.5"/>
<g transform="translate(271,697) rotate(-15)"><rect class="f" x="3" y="-3.5" width="10" height="7" rx="2"/><path class="f" d="M-6,-4 L-2,-7 L4,-6 L6,-3 L6,4 L2,7 L-4,6.5 L-6,3 Z"/><path d="M-6,-1 L0,-1 L6,-3 M0,-1 L0,7"/></g>
</g>
</g>
<circle cx="692.5" cy="245.2" r="17.5" fill="#fff" stroke="#000" stroke-width="1.2"/>
<circle cx="838.5" cy="699.6" r="17.6" fill="#fff" stroke="#000" stroke-width="1.2"/>
<text x="683" y="251">32</text>
<text x="826" y="706">113</text>
<text x="131.0" y="197.0">153</text>
<text x="257.5" y="198.6">86</text>
<text x="345.4" y="170.3">98</text>
<text x="375.7" y="211.3">89</text>
<text x="266.0" y="225.0">92</text>
<text x="265.0" y="247.4">95</text>
<text x="161.0" y="267.3">5</text>
<text x="462.4" y="273.0">14</text>
<text x="101.7" y="334.7">53</text>
<text x="619.4" y="306.7">38</text>
<text x="630.0" y="389.0">38</text>
<text x="532.2" y="321.0">20</text>
<text x="299.6" y="358.5">56</text>
<text x="354.7" y="385.5">59</text>
<text x="194.0" y="410.0">8</text>
<text x="312.5" y="437.0">62</text>
<text x="358.2" y="426.5">65</text>
<text x="463.6" y="405.9">125</text>
<text x="565.0" y="419.2">128</text>
<text x="565.0" y="443.8">116</text>
<text x="561.0" y="474.6">119</text>
<text x="406.2" y="485.9">124</text>
<text x="456.4" y="505.4">123</text>
<text x="497.4" y="494.0">122</text>
<text x="744.4" y="505.2">29</text>
<text x="214.6" y="507.8">150</text>
<text x="134.4" y="556.3">11</text>
<text x="361.3" y="529.0">138</text>
<text x="404.0" y="523.0">135</text>
<text x="422.4" y="580.3">131</text>
<text x="444.3" y="621.8">62</text>
<text x="487.0" y="610.8">65</text>
<text x="306.4" y="628.0">77</text>
<text x="253.6" y="653.8">17</text>
<text x="343.4" y="650.4">80</text>
<text x="375.0" y="648.2">104</text>
<text x="419.8" y="670.6">101</text>
<text x="328.8" y="697.6">83</text>
<text x="267.0" y="680.8">104</text>
<text x="360.3" y="689.7">107</text>
<text x="297.4" y="710.0">107</text>
<text x="253.6" y="720.0">110</text>
<text x="732.0" y="611.7">77</text>
<text x="813.4" y="615.0">80</text>
<text x="889.2" y="607.4">101</text>
<text x="867.2" y="654.6">104</text>
<text x="833.0" y="657.9">107</text>
<text x="745.3" y="647.0">104</text>
<text x="776.0" y="678.8">107</text>
<text x="720.0" y="686.5">110</text>
</g>
</svg>
</body></html>
